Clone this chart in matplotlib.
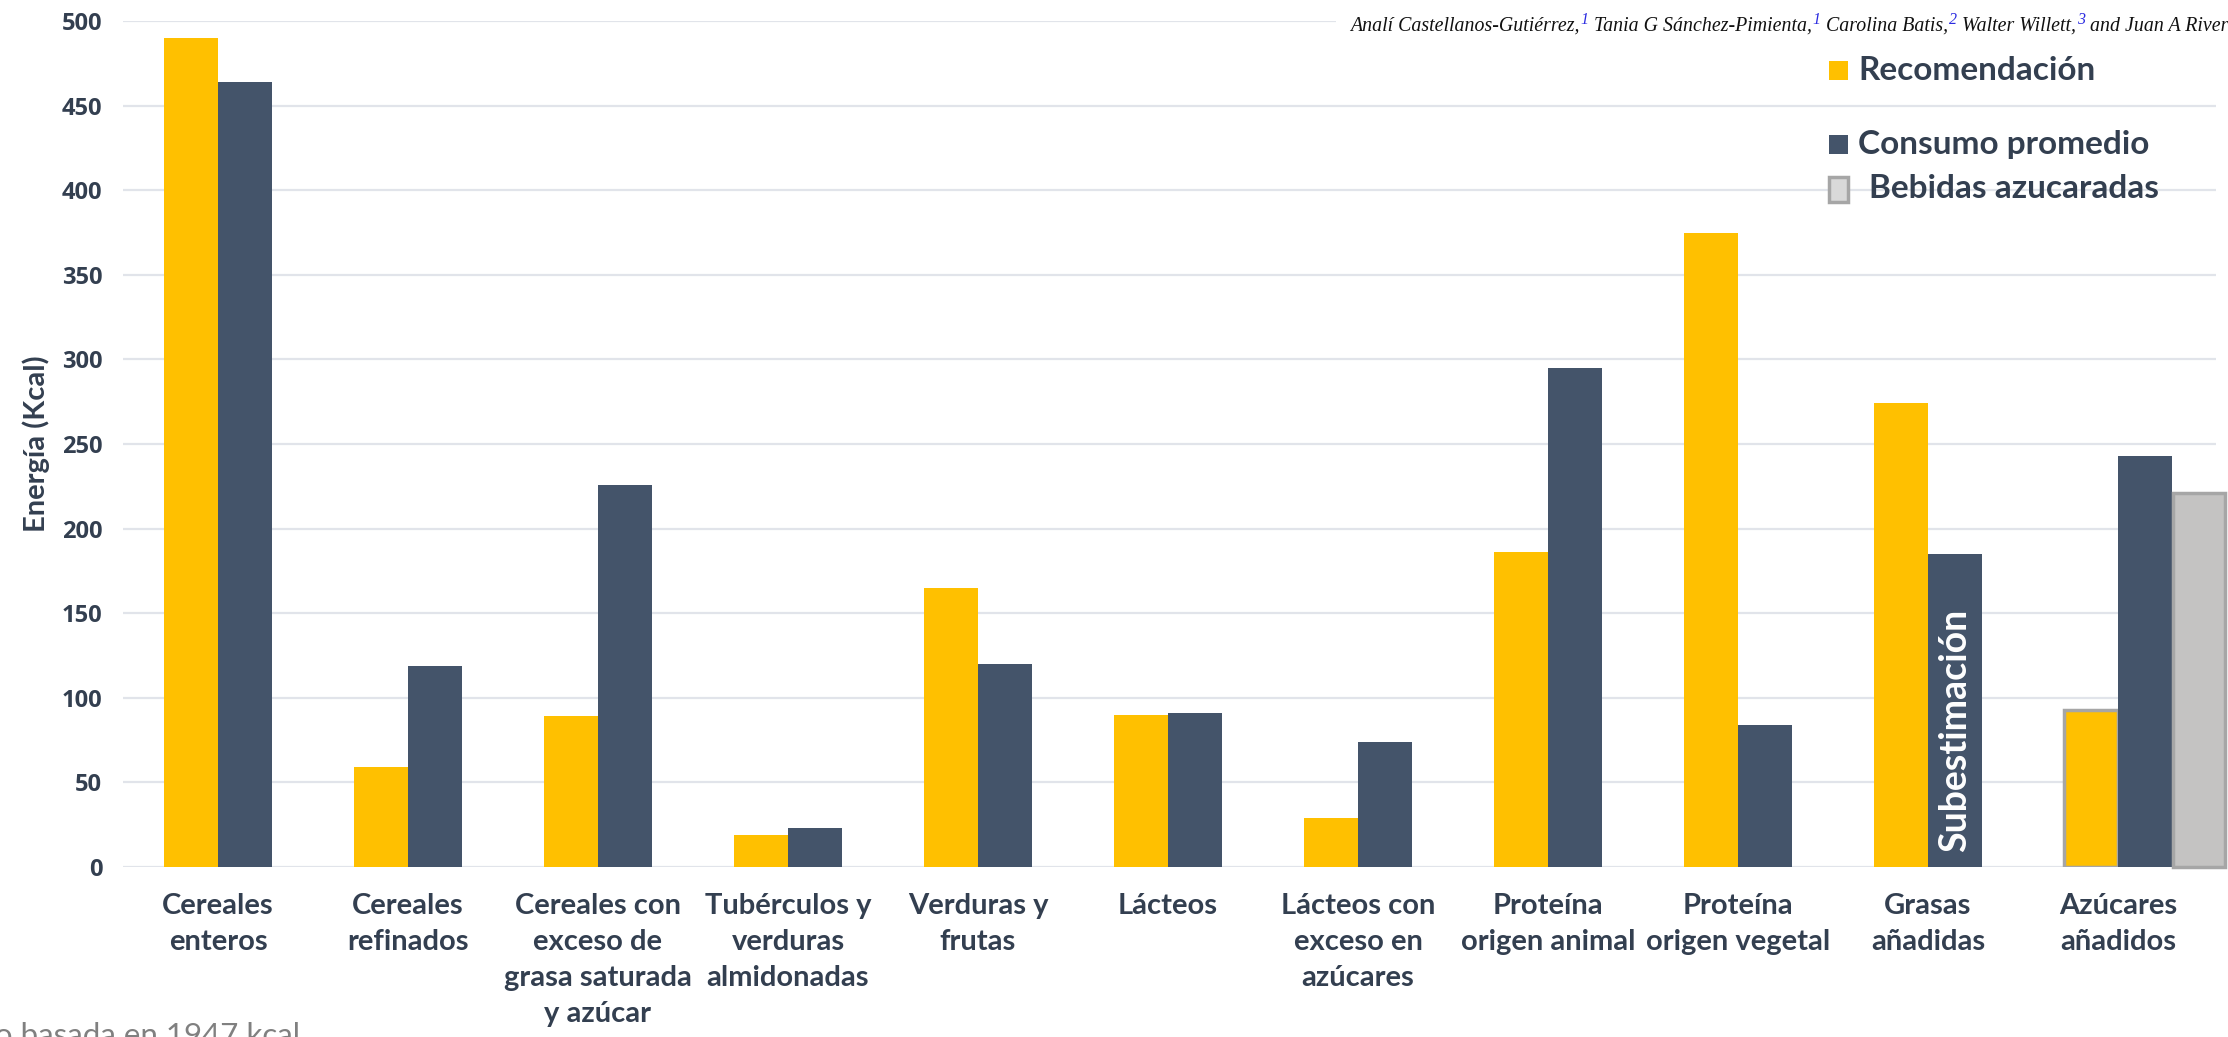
import numpy as np
import matplotlib
matplotlib.use("Agg")
import matplotlib.pyplot as plt
from matplotlib.patches import Rectangle

# data
categorias = ["Cereales\nenteros", "Cereales\nrefinados",
              "Cereales con\nexceso de\ngrasa saturada\ny azúcar",
              "Tubérculos y\nverduras\nalmidonadas", "Verduras y\nfrutas",
              "Lácteos", "Lácteos con\nexceso en\nazúcares",
              "Proteína\norigen animal", "Proteína\norigen vegetal",
              "Grasas\nañadidas", "Azúcares\nañadidos"]
recomendacion = [490, 59, 89, 19, 165, 90, 29, 186, 375, 274, 93]
consumo = [464, 119, 226, 23, 120, 91, 74, 295, 84, 185, 243]
bebidas = [221]          # only for "Azúcares añadidos"
yticks = np.arange(0, 501, 50)

autores = [("Analí Castellanos-Gutiérrez,", "1"), ("Tania G Sánchez-Pimienta,", "1"),
           ("Carolina Batis,", "2"), ("Walter Willett,", "3"), ("and Juan A Rivera", None)]

YEL = "#FFC000"
NAVY = "#44546A"
GRAY = "#C4C3C2"
EDGE = "#A6A6A6"
TXT = "#333F50"
GRID = "#E1E4EA"

fig = plt.figure(figsize=(22.28, 10.37), dpi=100)
ax = fig.add_axes([123 / 2228, 1 - 867 / 1037, (2216 - 123) / 2228, 846 / 1037])

x = np.arange(len(categorias))
w = 0.284
bars_r = ax.bar(x - w / 2, recomendacion, w, color=YEL, zorder=3)
bars_c = ax.bar(x + w / 2, consumo, w, color=NAVY, zorder=3)
# last yellow bar is outlined in gray
bars_r[-1].set_edgecolor(EDGE)
bars_r[-1].set_linewidth(2.5)
ax.bar(x[-1:] + 1.5 * w, bebidas, w * 0.95, color=GRAY, edgecolor=EDGE, linewidth=2.5,
       zorder=3, clip_on=False)

ax.set_xlim(-0.5, 10.516)
ax.set_ylim(0, 500)
ax.set_yticks(yticks)
ax.set_yticklabels([str(v) for v in yticks], fontsize=17, fontweight="bold",
                   color=TXT, family="Open Sans")
ax.set_xticks(x)
ax.set_xticklabels(categorias, fontsize=21, fontweight="bold", color=TXT,
                   family="Lato", linespacing=1.47)
ax.tick_params(axis="y", length=0, pad=15)
ax.tick_params(axis="x", length=0, pad=19)
ax.grid(axis="y", color=GRID, linewidth=1.6, zorder=0)
for s in ["top", "right", "left", "bottom"]:
    ax.spines[s].set_visible(False)
ax.set_ylabel("Energía (Kcal)", fontsize=21, fontweight="bold", color=TXT,
              family="Lato")
ax.yaxis.set_label_coords(-0.035, 0.5)

ax.text(x[9] + w / 2, 81, "Subestimación", rotation=90, ha="center", va="center",
        color="white", fontsize=27, fontweight="bold", family="Lato", zorder=4)

# legend drawn by hand
leg = [(YEL, None, "Recomendación", 80, 70, 1858),
       (NAVY, None, "Consumo promedio", 154, 144, 1858),
       ("#D9D9D9", EDGE, "Bebidas azucaradas", 198, 190, 1869)]
for col, ec, lab, base, cy, tx in leg:
    h = 19 if ec is None else 25
    fig.patches.append(Rectangle((1829 / 2228, 1 - (cy + h / 2) / 1037), 19 / 2228, h / 1037,
                                 transform=fig.transFigure, facecolor=col,
                                 edgecolor=ec if ec else "none", linewidth=2.5 if ec else 0,
                                 zorder=5))
    fig.text(tx / 2228, 1 - base / 1037, lab, fontsize=24, fontweight="bold", color=TXT,
             family="Lato", va="baseline", ha="left", zorder=5)

# author line (top right, cut at the edge)
r = fig.canvas.get_renderer()
xp = 1350
yb = 1 - 31 / 1037
fig.patches.append(Rectangle((1336 / 2228, 1 - 40 / 1037), 900 / 2228, 32 / 1037,
                             transform=fig.transFigure, facecolor="white",
                             edgecolor="none", zorder=4))
for name, sup in autores:
    t = fig.text(xp / 2228, yb, name, fontsize=14.3, style="italic", family="Liberation Serif",
                 color="#111111", va="baseline", ha="left", zorder=6)
    xp = t.get_window_extent(r).x1 + 1
    if sup:
        s = fig.text(xp / 2228, yb + 7 / 1037, sup, fontsize=11.5, style="italic",
                     family="Liberation Serif", color="#2B2BE0", va="baseline", ha="left",
                     zorder=6)
        xp = s.get_window_extent(r).x1 + 5
    else:
        xp += 4

fig.text(300 / 2228, 1 - 1022 / 1037, "Recomendación de consumo basada en 1947 kcal",
         fontsize=22.5, color="#808080", family="Lato", ha="right", va="top")

fig.savefig("out.png", dpi=100)
